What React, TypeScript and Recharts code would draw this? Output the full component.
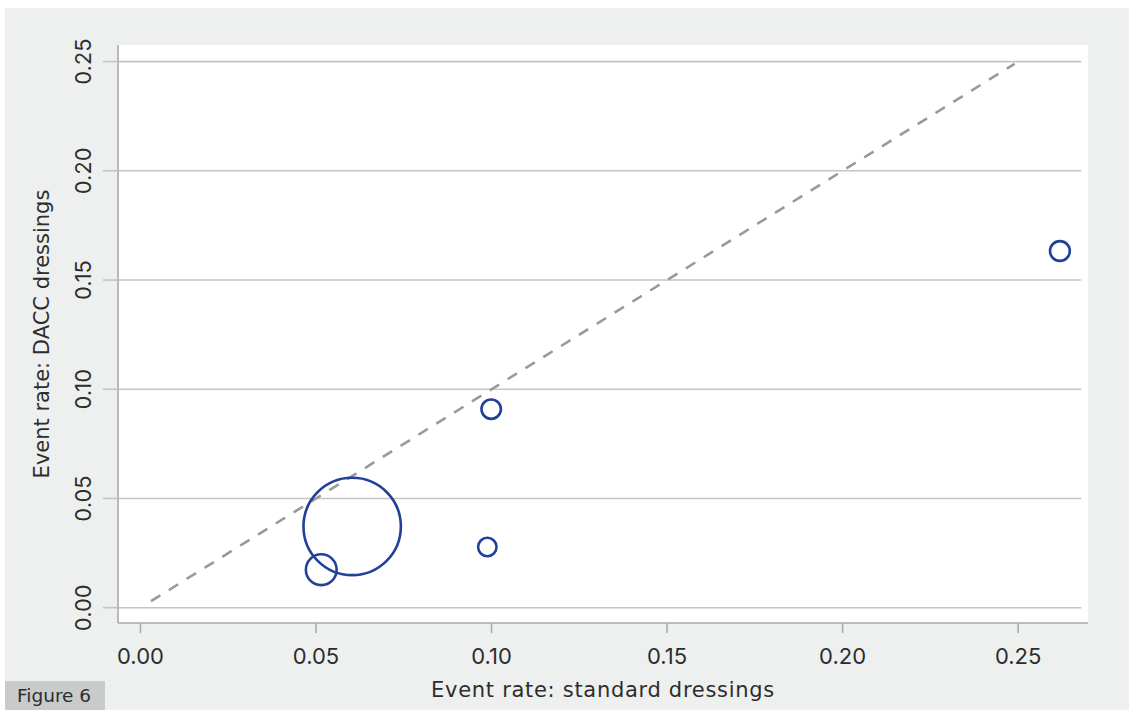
import React from 'react';
import { ScatterChart, Scatter, XAxis, YAxis, ZAxis, CartesianGrid, ReferenceLine, Label } from 'recharts';

// ---- data ----
const xTicks = [0, 0.05, 0.1, 0.15, 0.2, 0.25];
const yTicks = [0, 0.05, 0.1, 0.15, 0.2, 0.25];
const rateStandard = [0.0603, 0.0515, 0.0988, 0.0999, 0.2619];
const rateDacc = [0.0372, 0.0174, 0.0278, 0.0909, 0.1633];
const studyWeight = [2370, 237, 85, 94, 98];
const equalityRange = [0.003, 0.249];
const xDomain: [number, number] = [-0.0064, 0.2699];
const yDomain: [number, number] = [-0.007, 0.2576];
const gridEnd = 0.268;

const points = rateStandard.map((x, i) => ({ x, y: rateDacc[i], w: studyWeight[i] }));
const maxWeight = Math.max(...studyWeight);

const FONT = 'Inter, "Open Sans", sans-serif';
const TITLE_FONT = '"DejaVu Sans", Inter, sans-serif';
const TEXT = '#2d2d2d';
const AXIS = '#a9abab';
const GRID = '#c3c5c5';
const BLUE = '#21409a';

const XTick = (props: any) => {
  const { x, y, payload } = props;
  return (
    <text x={x} y={y + 21} textAnchor="middle" dominantBaseline="central" fontSize={22} fontFamily={FONT} fill={TEXT}>
      {Number(payload.value).toFixed(2)}
    </text>
  );
};

const YTick = (props: any) => {
  const { x, y, payload } = props;
  const cx = x - 18;
  return (
    <text x={cx} y={y} transform={`rotate(-90, ${cx}, ${y})`} textAnchor="middle" dominantBaseline="central" fontSize={22} fontFamily={FONT} fill={TEXT}>
      {Number(payload.value).toFixed(2)}
    </text>
  );
};

const XTitle = (props: any) => {
  const vb = props.viewBox;
  return (
    <text x={vb.x + vb.width / 2} y={vb.y + 67} textAnchor="middle" dominantBaseline="central" fontSize={21} letterSpacing={0.7} fontFamily={TITLE_FONT} fill={TEXT}>
      Event rate: standard dressings
    </text>
  );
};

const YTitle = (props: any) => {
  const vb = props.viewBox;
  const cx = vb.x + 42;
  const cy = vb.y + vb.height / 2;
  return (
    <text x={cx} y={cy} transform={`rotate(-90, ${cx}, ${cy})`} textAnchor="middle" dominantBaseline="central" fontSize={21} fontFamily={TITLE_FONT} fill={TEXT}>
      Event rate: DACC dressings
    </text>
  );
};

const Bubble = (props: any) => {
  const { cx, cy, width } = props;
  return <circle cx={cx} cy={cy} r={width / 2} fill="none" stroke={BLUE} strokeWidth={2.6} />;
};

export default function App() {
  return (
    <div style={{ position: 'absolute', left: 0, top: 0, width: 1132, height: 710, background: '#ffffff', overflow: 'hidden' }}>
      <div style={{ position: 'absolute', left: 5, top: 8, width: 1124, height: 702, background: '#eef0ef' }} />
      <div style={{ position: 'absolute', left: 0, top: 0 }}>
        <ScatterChart width={1132} height={710} margin={{ top: 45, right: 44, bottom: 0, left: 0 }}>
          <CartesianGrid fill="#ffffff" horizontal={false} vertical={false} />
          {yTicks.map((t) => (
            <ReferenceLine
              key={t}
              segment={[{ x: xDomain[0], y: t }, { x: gridEnd, y: t }]}
              stroke={GRID}
              strokeWidth={1.6}
              ifOverflow="visible"
            />
          ))}
          <XAxis
            type="number"
            dataKey="x"
            domain={xDomain}
            ticks={xTicks}
            allowDataOverflow
            height={87}
            tickSize={10}
            axisLine={{ stroke: AXIS, strokeWidth: 1.6 }}
            tickLine={{ stroke: AXIS, strokeWidth: 1.6 }}
            tick={<XTick />}
          >
            <Label content={<XTitle />} />
          </XAxis>
          <YAxis
            type="number"
            dataKey="y"
            domain={yDomain}
            ticks={yTicks}
            allowDataOverflow
            width={118}
            tickSize={15}
            axisLine={{ stroke: AXIS, strokeWidth: 1.6 }}
            tickLine={{ stroke: GRID, strokeWidth: 1.6 }}
            tick={<YTick />}
          >
            <Label content={<YTitle />} />
          </YAxis>
          <ZAxis type="number" dataKey="w" domain={[0, maxWeight]} range={[0, Math.PI * maxWeight]} />
          <ReferenceLine
            segment={[{ x: equalityRange[0], y: equalityRange[0] }, { x: equalityRange[1], y: equalityRange[1] }]}
            stroke="#9a9a9a"
            strokeWidth={2.6}
            strokeDasharray="11 10"
            ifOverflow="visible"
          />
          <Scatter data={points} shape={<Bubble />} isAnimationActive={false} />
        </ScatterChart>
      </div>
      <div
        style={{
          position: 'absolute',
          left: 5,
          top: 681,
          width: 100,
          height: 29,
          background: '#c9caca',
          fontFamily: TITLE_FONT,
          fontSize: 18.5,
          lineHeight: '29px',
          color: TEXT,
          paddingLeft: 12,
          boxSizing: 'border-box',
          whiteSpace: 'nowrap',
        }}
      >
        Figure 6
      </div>
    </div>
  );
}
